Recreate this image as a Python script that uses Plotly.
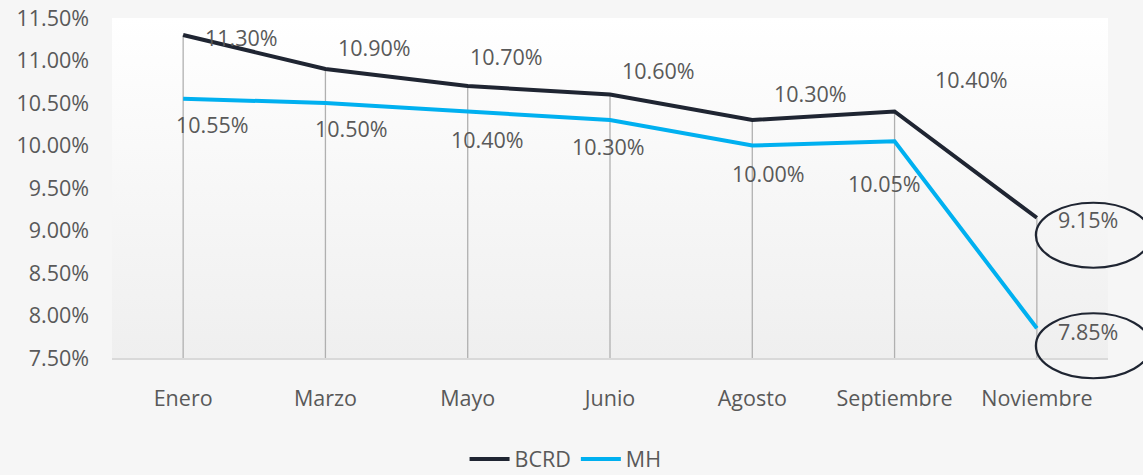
import base64
import plotly.graph_objects as go

categories = ["Enero", "Marzo", "Mayo", "Junio", "Agosto", "Septiembre", "Noviembre"]
bcrd = [11.30, 10.90, 10.70, 10.60, 10.30, 10.40, 9.15]
mh = [10.55, 10.50, 10.40, 10.30, 10.00, 10.05, 7.85]
y_min, y_max, y_step = 7.5, 11.5, 0.5

# label offsets (pixels) relative to each point
bcrd_dx = [58, 49, 39, 48, 58, 77, 51]
bcrd_dy = [-2, 22, 30, 24, 27, 32, -2]
mh_dx = [29, 26, 20, -2, 16, -10, 51]
mh_dy = [-26, -25, -28, -26, -28, -42, -3]

TXT = "#595959"
FONT = "Open Sans"
FS = 21.5
C_BCRD = "#1f2532"
C_MH = "#00b0f0"

fig = go.Figure()

# vertical drop lines
fig.add_trace(go.Scatter(
    x=categories, y=bcrd, mode="markers", marker=dict(size=0.1, opacity=0),
    showlegend=False, hoverinfo="skip",
    error_y=dict(type="data", symmetric=False, array=[0] * len(bcrd),
                 arrayminus=[v - y_min for v in bcrd], width=0,
                 color="#b0b0b0", thickness=1.3),
))
fig.add_trace(go.Scatter(x=categories, y=bcrd, mode="lines", name="BCRD",
                         line=dict(color=C_BCRD, width=4)))
fig.add_trace(go.Scatter(x=categories, y=mh, mode="lines", name="MH",
                         line=dict(color=C_MH, width=4)))

for series, dxs, dys in ((bcrd, bcrd_dx, bcrd_dy), (mh, mh_dx, mh_dy)):
    for c, v, dx, dy in zip(categories, series, dxs, dys):
        fig.add_annotation(x=c, y=v, text=f"{v:.2f}%", showarrow=False,
                           xshift=dx, yshift=dy,
                           font=dict(family=FONT, size=FS, color=TXT))

# ellipses around the last values
n = len(categories)
last_paper_x = (n - 1 + 0.5) / n
for v in (bcrd[-1], mh[-1]):
    fig.add_shape(type="circle", xref="paper", yref="paper",
                  xsizemode="pixel", ysizemode="pixel",
                  xanchor=last_paper_x, yanchor=(v - y_min) / (y_max - y_min),
                  x0=-1, x1=114, y0=15, y1=-50,
                  line=dict(color=C_BCRD, width=2.2), fillcolor="rgba(0,0,0,0)")

# gradient plot background
svg = ('<svg xmlns="http://www.w3.org/2000/svg" width="100" height="100" preserveAspectRatio="none">'
       '<defs><linearGradient id="g" x1="0" y1="0" x2="0" y2="1">'
       '<stop offset="0" stop-color="#ffffff"/><stop offset="1" stop-color="#efefef"/>'
       '</linearGradient></defs><rect width="100" height="100" fill="url(#g)"/></svg>')
src = "data:image/svg+xml;base64," + base64.b64encode(svg.encode()).decode()
fig.add_layout_image(source=src, xref="paper", yref="paper", x=0, y=1,
                     sizex=1, sizey=1, xanchor="left", yanchor="top",
                     sizing="stretch", layer="below")

fig.update_layout(
    width=1143, height=475,
    margin=dict(l=112, r=35, t=18, b=117, autoexpand=False),
    paper_bgcolor="#f6f6f6", plot_bgcolor="rgba(0,0,0,0)",
    font=dict(family=FONT, size=FS, color=TXT),
    showlegend=True,
    legend=dict(orientation="h", x=0.4948, xanchor="center", xref="container",
                y=1 - 459 / 475, yanchor="middle", yref="container",
                font=dict(family=FONT, size=FS, color=TXT), bgcolor="rgba(0,0,0,0)",
                itemwidth=40, tracegroupgap=0),
    hovermode=False,
)
fig.update_xaxes(type="category", range=[-0.5, n - 0.5], showgrid=False, zeroline=False,
                 showline=True, linecolor="#d9d9d9", linewidth=1.5,
                 ticks="", ticklabelstandoff=20,
                 tickfont=dict(family=FONT, size=FS, color=TXT))
fig.update_yaxes(range=[y_min, y_max], dtick=y_step, tick0=y_min, showgrid=False,
                 zeroline=False, showline=False, ticksuffix="%", tickformat=".2f",
                 ticks="", ticklabelstandoff=22,
                 tickfont=dict(family=FONT, size=FS, color=TXT))

fig.write_html("out.html", config={"displayModeBar": False},
               post_script="document.body.style.margin='0';document.body.style.overflow='hidden';")
